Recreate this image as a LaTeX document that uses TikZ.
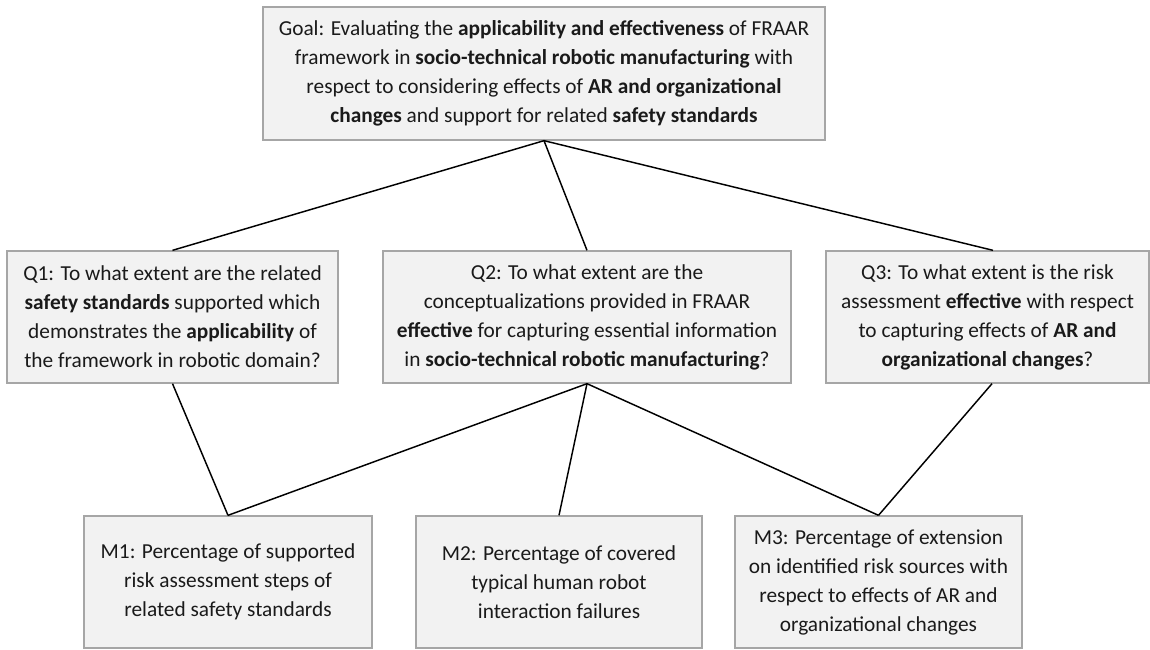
\documentclass[tikz,border=0pt]{standalone}
\usepackage{fontspec}
\setmainfont{Carlito}
\definecolor{boxfill}{HTML}{F2F2F2}
\definecolor{boxline}{HTML}{A6A6A6}
\definecolor{txt}{HTML}{1A1A1A}
\begin{document}
\begin{tikzpicture}[x=0.75pt,y=-0.75pt,
  gqbox/.style={draw=boxline,line width=1pt,fill=boxfill,text=txt,align=center,
    inner sep=0pt,minimum height=132*0.75pt,
    font=\fontsize{16}{21.75}\selectfont},
  link/.style={draw=black,line width=1.1pt}]
\useasboundingbox (0,0) rectangle (1150,650);
% Goal
\node[gqbox,minimum width=562*0.75pt,minimum height=133*0.75pt] (goal) at (544,73.5)
 {Goal: Evaluating the \textbf{applicability and effectiveness} of FRAAR\\
  framework in \textbf{socio-technical robotic manufacturing} with\\
  respect to considering effects of \textbf{AR and organizational}\\
  \textbf{changes} and support for related \textbf{safety standards}};
% Questions
\node[gqbox,minimum width=331*0.75pt] (q1) at (172.5,317)
 {Q1: To what extent are the related\\
  \textbf{safety standards} supported which\\
  demonstrates the \textbf{applicability} of\\
  the framework in robotic domain?};
\node[gqbox,minimum width=408*0.75pt] (q2) at (587,317)
 {Q2: To what extent are the\\
  conceptualizations provided in FRAAR\\
  \textbf{effective} for capturing essential information\\
  in \textbf{socio-technical robotic manufacturing}?};
\node[gqbox,minimum width=323*0.75pt] (q3) at (987.5,317)
 {Q3: To what extent is the risk\\
  assessment \textbf{effective} with respect\\
  to capturing effects of \textbf{AR and}\\
  \textbf{organizational changes}?};
% Metrics
\node[gqbox,minimum width=288*0.75pt] (m1) at (228,582)
 {M1: Percentage of supported\\
  risk assessment steps of\\
  related safety standards};
\node[gqbox,minimum width=286*0.75pt] (m2) at (559,582)
 {M2: Percentage of covered\\
  typical human robot\\
  interaction failures};
\node[gqbox,minimum width=287*0.75pt] (m3) at (878.5,582)
 {M3: Percentage of extension\\
  on identified risk sources with\\
  respect to effects of AR and\\
  organizational changes};
% Connectors
\draw[link] (goal.south) -- (q1.north);
\draw[link] (goal.south) -- (q2.north);
\draw[link] (goal.south) -- ([xshift=5.5*0.75pt]q3.north);
\draw[link] (q1.south) -- (m1.north);
\draw[link] (q2.south) -- (m1.north);
\draw[link] (q2.south) -- (m2.north);
\draw[link] (q2.south) -- (m3.north);
\draw[link] ([xshift=4.5*0.75pt]q3.south) -- (m3.north);
\end{tikzpicture}
\end{document}
